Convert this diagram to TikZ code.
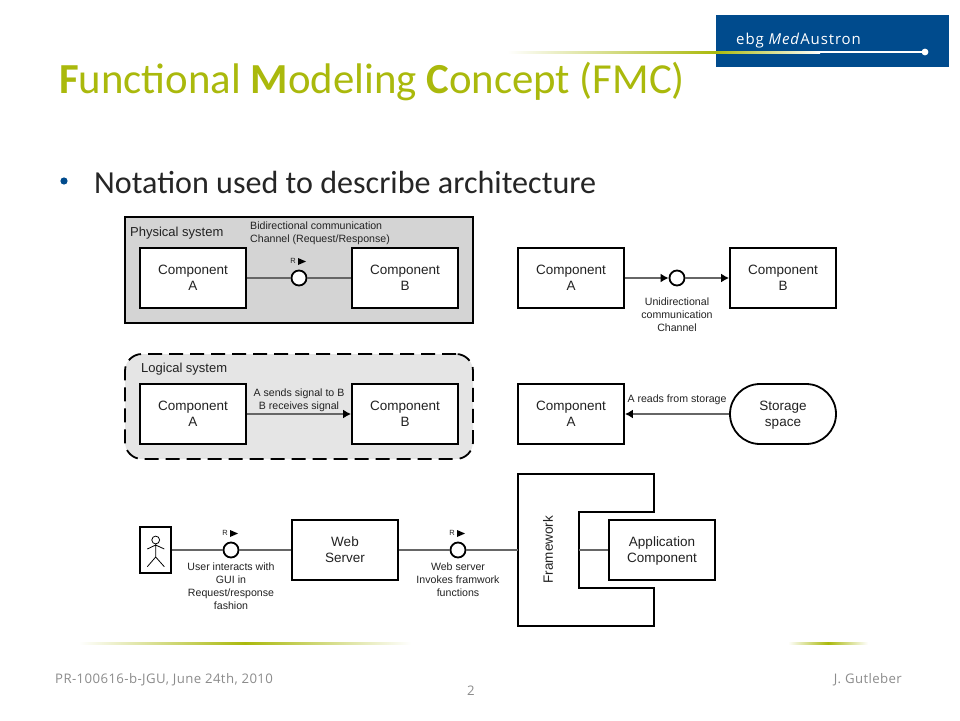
\documentclass[tikz,border=0pt]{standalone}
\usepackage{fontspec}
\setmainfont{Liberation Sans}
\newfontfamily\titlefont{Carlito}
\newfontfamily\footfont[LetterSpace=3]{Open Sans}
\newfontfamily\logofont[LetterSpace=6]{Open Sans}
\usetikzlibrary{shapes.misc,arrows.meta}
\definecolor{olive}{HTML}{AAB90C}
\definecolor{navy}{HTML}{004B8D}
\definecolor{conn}{HTML}{666666}
\definecolor{txt}{HTML}{222222}
\tikzset{
  x=1pt,y=-1pt,
  comp/.style={draw=black,fill=white,line width=1.8pt,minimum width=106pt,minimum height=60pt,inner sep=0pt,align=center,text depth=0pt,text=txt,font=\fontsize{13.5}{16}\selectfont},
  store/.style={comp,rounded rectangle},
  agent/.style={draw=black,fill=white,line width=1.8pt,minimum width=31pt,minimum height=46pt,inner sep=0pt},
  chan/.style={draw=black,fill=white,line width=1.8pt,circle,minimum size=15pt,inner sep=0pt},
  conn/.style={draw=conn,line width=1.8pt},
  flow/.style={conn,-{Latex[length=8pt,width=9pt,color=black]}},
  lab/.style={inner sep=0pt,align=center,text=txt,font=\fontsize{10.6}{13}\selectfont},
  syslab/.style={inner sep=0pt,anchor=west,text=txt,font=\fontsize{13}{16}\selectfont},
  rmark/.style={inner sep=0pt,text=txt,font=\fontsize{7.5}{8}\selectfont},
  tip/.style={fill=black,draw=none},
  rule/.style={draw=none},
  foot/.style={inner sep=0pt,text=black!45,font=\footfont\fontsize{13.2}{14}\selectfont},
}
\newcommand{\reqmark}[2]{%
  \node[rmark] at (#1-6,#2-17) {R};
  \fill[tip] (#1-1,#2-20) -- (#1+7,#2-16.5) -- (#1-1,#2-13) -- cycle;
}
\begin{document}
\begin{tikzpicture}
\useasboundingbox (0,0) rectangle (960,720);
\fill[white] (0,0) rectangle (960,720);
% logo
\fill[navy] (716,15) rectangle (949,67);
\shade[rule,left color=white,right color=olive] (507,51) rectangle (716,53);
\shade[rule,left color=olive,right color=white] (716,51) rectangle (820,53);
\fill[white] (820,51) rectangle (925,53);
\fill[white] (925,52) circle (3.4);
\node[inner sep=0pt,anchor=west,text=white,font=\logofont\fontsize{15}{17}\selectfont] (logo) at (736,40.5) {ebg \textit{Med}Austron};
% title
\node[inner sep=0pt,anchor=base west,text=olive,font=\titlefont\fontsize{42.8}{48}\selectfont] (title) at (59,93) {\textbf{F}unctional \textbf{M}odeling \textbf{C}oncept (FMC)};
\fill[navy] (64,181) circle (3.6);
\node[inner sep=0pt,anchor=base west,text=black!85,font=\titlefont\fontsize{32.1}{38}\selectfont] (bul) at (94,193) {Notation used to describe architecture};
% physical system
\node[draw=black,fill=black!17,line width=1.8pt,minimum width=348pt,minimum height=106pt,inner sep=0pt] (phys) at (299,270) {};
\node[syslab] (physl) at (130,233) {Physical system};
\node[comp] (pa) at (193,278) {Component\\A};
\node[comp] (pb) at (405,278) {Component\\B};
\node[chan] (pc) at (299,278) {};
\draw[conn] (pa) -- (pc);
\draw[conn] (pc) -- (pb);
\reqmark{299}{278}
\node[lab,align=left,anchor=west] (pl) at (250,233) {Bidirectional communication\\Channel (Request/Response)};
% logical system
\node[draw=black,fill=black!10,line width=1.8pt,dash pattern=on 14pt off 7pt,rounded corners=17pt,minimum width=348pt,minimum height=105pt,inner sep=0pt] (logi) at (299,406.5) {};
\node[syslab] (logl) at (141,369) {Logical system};
\node[comp] (la) at (193,414) {Component\\A};
\node[comp] (lb) at (405,414) {Component\\B};
\draw[flow] (la) -- (lb);
\node[lab] (ll) at (299,400.5) {A sends signal to B\\B receives signal};
% unidirectional
\node[comp] (ua) at (571,278) {Component\\A};
\node[comp] (ub) at (783,278) {Component\\B};
\node[chan] (uc) at (677,278) {};
\draw[flow] (ua) -- (uc);
\draw[flow] (uc) -- (ub);
\node[lab] (ul) at (677,315) {Unidirectional\\communication\\Channel};
% storage
\node[comp] (sa) at (571,414) {Component\\A};
\node[store] (ss) at (783,414) {Storage\\space};
\draw[flow] (ss) -- (sa);
\node[lab] (sl) at (677,399.5) {A reads from storage};
% bottom row
\node[agent] (user) at (155.5,550) {};
\draw[line width=.8pt] (155.7,540) circle (3.9);
\draw[line width=.8pt] (155.7,544) -- (155.7,557) (147.3,566.7) -- (155.7,557) -- (164.3,566.7) (147.3,549) -- (155.7,545) -- (164.3,549);
\node[chan] (c1) at (231,550) {};
\node[comp] (web) at (345,550) {Web\\Server};
\draw[conn] (user) -- (c1);
\draw[conn] (c1) -- (web);
\reqmark{231}{550}
\node[lab] (l1) at (231,586.5) {User interacts with\\GUI in\\Request/response\\fashion};
\node[chan] (c2) at (458,550) {};
\reqmark{458}{550}
\coordinate (fwl) at (518,550);
\coordinate (fwn) at (579,550);
\draw[black,fill=white,line width=1.8pt] (518,474) -- (654,474) -- (654,512) -- (579,512) -- (579,588) -- (654,588) -- (654,626) -- (518,626) -- cycle;
\draw[conn] (web) -- (c2);
\draw[conn] (c2) -- (fwl);
\node[comp] (app) at (662,550) {Application\\Component};
\draw[conn] (fwn) -- (app);
\node[inner sep=0pt,rotate=90,text=txt,font=\fontsize{13.5}{16}\selectfont] (fw) at (548,549.5) {Framework};
\node[lab] (l2) at (458,579.5) {Web server\\Invokes framwork\\functions};
% footer rules
\shade[rule,left color=white,right color=white,middle color=olive] (79,642) rectangle (411,644);
\shade[rule,left color=white,right color=white,middle color=olive] (788,642) rectangle (868,644);
\node[foot,anchor=west] (f1) at (55,679.5) {PR-100616-b-JGU, June 24th, 2010};
\node[foot,anchor=east] (f2) at (902,679.5) {J. Gutleber};
\node[foot] (f3) at (471,690.5) {2};
\end{tikzpicture}
\end{document}
